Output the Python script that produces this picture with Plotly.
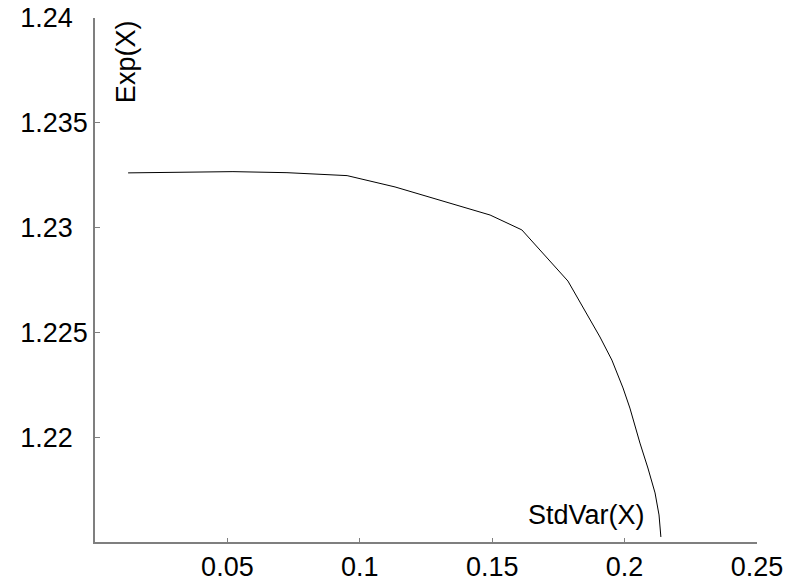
import plotly.graph_objects as go

# Data
std_var = [0.0125, 0.0321, 0.0521, 0.0725, 0.0952, 0.1133, 0.1303, 0.1492, 0.1612,
           0.1786, 0.1907, 0.1952, 0.1994, 0.2020, 0.2058, 0.2088, 0.2115, 0.2130, 0.2137]
exp_val = [1.23261, 1.23264, 1.23267, 1.23262, 1.23248, 1.23194, 1.23132, 1.23060, 1.22989,
           1.22745, 1.22478, 1.22368, 1.22235, 1.22139, 1.21972, 1.21853, 1.21734, 1.21629,
           1.21524]

x_tickvals = [0.05, 0.1, 0.15, 0.2, 0.25]
x_ticktext = ["0.05", "0.1", "0.15", "0.2", "0.25"]
y_tickvals = [1.22, 1.225, 1.23, 1.235, 1.24]
y_ticktext = ["1.22", "1.225", "1.23", "1.235", "1.24"]

# pad shorter labels so they appear left-aligned like the reference
maxlen = max(len(t) for t in y_ticktext)
y_ticktext_padded = [t + "\u00a0\u00a0" * (maxlen - len(t)) for t in y_ticktext]

font = dict(family="Liberation Sans, Arial, sans-serif", size=27, color="black")

fig = go.Figure()
fig.add_trace(go.Scatter(x=std_var, y=exp_val, mode="lines",
                         line=dict(color="black", width=1), showlegend=False,
                         hoverinfo="skip"))

axis_common = dict(showgrid=False, zeroline=False, showline=True, linecolor="#7f7f7f",
                   linewidth=1.5, ticks="inside", tickcolor="#7f7f7f", tickwidth=1,
                   tickfont=font, automargin=False, ticklabeloverflow="allow")

fig.update_xaxes(range=[0, 0.25], tickvals=x_tickvals, ticktext=x_ticktext,
                 ticklen=4, **axis_common)
fig.update_yaxes(range=[1.215, 1.24], tickvals=y_tickvals, ticktext=y_ticktext_padded,
                 ticklen=5, **axis_common)

fig.add_annotation(text="Exp(X)", xref="paper", yref="paper", x=0.047, y=0.916,
                   textangle=-90, showarrow=False, font=font,
                   xanchor="center", yanchor="middle")
fig.add_annotation(text="StdVar(X)", xref="paper", yref="paper", x=0.743, y=0.0515,
                   showarrow=False, font=font, xanchor="center", yanchor="middle")

fig.update_layout(width=786, height=584, margin=dict(l=95, r=29, t=18, b=42),
                  paper_bgcolor="white", plot_bgcolor="white", font=font)

# remove the default page margin so the figure fills the window exactly
fig.write_html("out.html", config={"displayModeBar": False},
               post_script="document.body.style.margin='0';")
